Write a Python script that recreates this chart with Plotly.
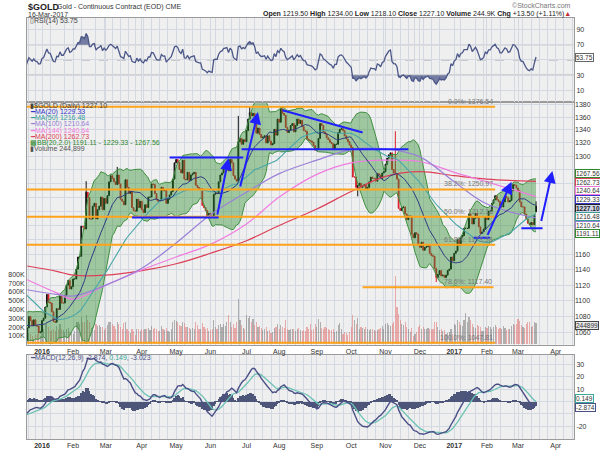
import numpy as np
import pandas as pd
import plotly.graph_objects as go

N = None
# ---------------- DATA ----------------
# daily closes, one row per week (Mon..Fri); first row = Thu/Fri 1-2 Oct 2015 (warm-up for indicators)
# None = exchange holiday (no bar)
close_rows = [
    [1114, 1137],
    [1137, 1146, 1146, 1146, 1156],
    [1164, 1167, 1186, 1187, 1182],
    [1171, 1170, 1166, 1166, 1163],
    [1166, 1167, 1156, 1146, 1142],
    [1135, 1134, 1115, 1105, 1088],
    [1091, 1092, 1085, 1084, 1081],
    [1085, 1068, 1071, 1078, 1077],
    [1074, 1075, 1070, N, 1056],
    [1064, 1064, 1053, 1062, 1085],
    [1075, 1074, 1075, 1071, 1075],
    [1064, 1062, 1076, 1050, 1066],
    [1080, 1075, 1069, 1076, N],
    [1069, 1068, 1060, 1061, N],
    [1075, 1078, 1092, 1108, 1098],
    [1097, 1086, 1074, 1073, 1090],
    [N, 1089, 1106, 1097, 1097],
    [1107, 1120, 1126, 1115, 1118],
    [1128, 1128, 1141, 1157, 1158],
    [1199, 1198, 1195, 1247, 1239],
    [N, 1209, 1209, 1227, 1231],
    [1209, 1222, 1227, 1240, 1222],
    [1238, 1231, 1242, 1262, 1271],
    [1267, 1262, 1258, 1272, 1259],
    [1237, 1234, 1229, 1265, 1254],
    [1245, 1248, 1225, 1221, N],
    [1220, 1237, 1225, 1234, 1222],
    [1218, 1229, 1225, 1240, 1240],
    [1259, 1258, 1245, 1236, 1234],
    [1235, 1254, 1249, 1250, 1231],
    [1237, 1243, 1248, 1266, 1290],
    [1295, 1291, 1280, 1275, 1294],
    [1266, 1265, 1276, 1264, 1272],
    [1274, 1276, 1257, 1254, 1252],
    [1252, 1228, 1225, 1221, 1213],
    [N, 1217, 1213, 1211, 1244],
    [1246, 1245, 1262, 1272, 1275],
    [1285, 1286, 1289, 1278, 1295],
    [1290, 1271, 1266, 1263, 1322],
    [1327, 1318, 1325, 1322, 1339],
    [N, 1357, 1367, 1362, 1366],
    [1356, 1335, 1343, 1333, 1328],
    [1329, 1331, 1320, 1331, 1323],
    [1317, 1319, 1341, 1332, 1357],
    [1352, 1373, 1366, 1363, 1344],
    [1336, 1340, 1347, 1350, 1337],
    [1347, 1357, 1350, 1355, 1345],
    [1339, 1338, 1326, 1324, 1323],
    [1321, 1316, 1309, 1311, 1327],
    [N, 1350, 1347, 1337, 1334],
    [1328, 1325, 1321, 1319, 1310],
    [1318, 1318, 1336, 1341, 1342],
    [1339, 1331, 1326, 1322, 1317],
    [1313, 1269, 1269, 1254, 1257],
    [1260, 1254, 1256, 1258, 1251],
    [1254, 1262, 1269, 1267, 1267],
    [1263, 1274, 1272, 1267, 1275],
    [1277, 1288, 1297, 1302, 1305],
    [1280, 1275, 1274, 1266, 1224],
    [1221, 1225, 1226, 1216, 1208],
    [1213, 1213, 1188, N, 1183],
    [1190, 1188, 1173, 1170, 1177],
    [1166, 1170, 1171, 1172, 1162],
    [1159, 1158, 1142, 1130, 1134],
    [1139, 1132, 1133, 1130, 1133],
    [N, 1139, 1141, 1157, 1152],
    [N, 1162, 1165, 1181, 1173],
    [1184, 1186, 1196, 1196, 1196],
    [N, 1216, 1212, 1202, 1210],
    [1217, 1211, 1198, 1189, 1191],
    [1195, 1211, 1208, 1220, 1220],
    [1231, 1236, 1242, 1236, 1234],
    [1226, 1226, 1233, 1241, 1239],
    [N, 1233, 1235, 1249, 1258],
    [1257, 1253, 1249, 1233, 1226],
    [1226, 1216, 1209, 1203, 1201],
    [1204, 1201, 1213.6, 1227.1],
]
open_fix = {"2017-03-16": 1219.50}
high_fix = {"2016-02-11": 1263, "2016-03-10": 1284, "2016-06-24": 1362, "2016-07-06": 1377,
            "2016-08-02": 1375, "2016-11-09": 1338, "2017-03-16": 1234.00}
low_fix = {"2016-10-07": 1241, "2016-12-15": 1124, "2017-03-16": 1218.10}

# daily volume (thousands), weekly rows from Mon 21 Dec 2015
vol_rows = [
    [130, 120, 100, 60, N], [110, 120, 130, 90, N],
    [160, 170, 220, 260, 200], [150, 160, 170, 150, 210], [N, 170, 230, 180, 160], [140, 170, 190, 140, 130],
    [120, 150, 250, 260, 230], [310, 260, 250, 340, 280], [N, 250, 190, 200, 160], [230, 210, 220, 200, 200],
    [160, 190, 220, 250, 260], [230, 210, 180, 260, 230], [200, 180, 240, 260, 180], [150, 130, 170, 150, N],
    [110, 180, 170, 150, 180], [160, 170, 180, 190, 160], [210, 180, 190, 170, 150], [150, 210, 170, 160, 190],
    [150, 140, 170, 250, 280], [270, 250, 220, 210, 260], [240, 200, 200, 190, 180], [190, 180, 250, 220, 180],
    [170, 240, 200, 180, 190], [N, 150, 160, 170, 280], [200, 170, 220, 230, 200], [230, 210, 260, 330, 250],
    [200, 230, 190, 250, 520], [280, 220, 190, 180, 330], [N, 300, 320, 250, 290], [220, 260, 200, 210, 190],
    [160, 170, 200, 150, 160], [130, 140, 190, 200, 230], [180, 220, 200, 190, 280], [180, 160, 170, 170, 180],
    [150, 170, 190, 160, 150], [160, 150, 200, 180, 230], [160, 180, 230, 200, 290], [N, 260, 190, 180, 200],
    [190, 170, 160, 160, 170], [140, 150, 220, 240, 170], [120, 140, 130, 110, 140], [200, 330, 280, 230, 300],
    [180, 200, 190, 180, 200], [170, 160, 180, 170, 160], [150, 160, 170, 190, 210], [180, 230, 240, 220, 210],
    [230, 260, 780, 420, 350], [280, 230, 220, 250, 200], [170, 140, 190, N, 90], [120, 140, 200, 220, 180],
    [200, 180, 170, 190, 170], [170, 180, 260, 250, 200], [160, 180, 150, 160, 120], [N, 130, 140, 170, 120],
    [N, 230, 220, 280, 260], [220, 210, 280, 360, 250], [N, 315, 280, 230, 200], [190, 220, 210, 200, 150],
    [150, 200, 190, 210, 200], [170, 200, 220, 200, 180], [190, 170, 210, 190, 160], [N, 180, 170, 210, 230],
    [220, 230, 290, 270, 220], [200, 190, 230, 250, 250], [200, 210, 260, 244.9],
]

# longer moving averages
ma_dates = ["2015-12-18", "2016-01-15", "2016-02-01", "2016-03-01", "2016-04-01", "2016-05-02",
            "2016-06-01", "2016-07-01", "2016-08-01", "2016-09-01", "2016-10-03", "2016-11-01",
            "2016-12-01", "2017-01-03", "2017-02-01", "2017-03-16"]
ma100_vals = [1114, 1108, 1106, 1120, 1142, 1176, 1215, 1247, 1274, 1294, 1310, 1311, 1299, 1262, 1230, 1210.64]
ma144_vals = [1127, 1110, 1102, 1120, 1140, 1157, 1174, 1202, 1240, 1273, 1290, 1294, 1292, 1276, 1262, 1240.64]
ma200_vals = [1145, 1138, 1133, 1133, 1139, 1148, 1162, 1179, 1200, 1223, 1248, 1270, 1277, 1271, 1266, 1262.73]

fib_levels = [1376.54, 1250.97, 1212.18, 1173.38, 1117.40, 1047.81]
fib_names = ["0.0%: 1376.54", "38.2%: 1250.97", "50.0%: 1212.18", "61.8%: 1173.38", "78.6%: 1117.40", "100.0%: 1047.81"]
fib_start = ["2015-12-14", "2015-12-14", "2015-12-14", "2015-12-14", "2016-10-12", "2015-12-14"]
fib_end = ["2017-02-08", "2017-02-08", "2017-02-08", "2017-02-08", "2017-02-07", "2017-02-08"]

trend_lines = [
    ("2016-03-23", 1211, "2016-06-08", 1211),
    ("2016-04-26", 1298, "2016-06-29", 1298),
    ("2016-06-28", 1310.5, "2016-11-21", 1310.5),
    ("2016-08-03", 1371, "2016-10-12", 1336),
    ("2017-01-20", 1183, "2017-02-03", 1183),
    ("2017-03-03", 1196, "2017-03-22", 1196),
]
trend_arrows = [
    ("2016-06-07", 1213, "2016-06-16", 1297),
    ("2016-06-27", 1253, "2016-07-13", 1368),
    ("2017-02-01", 1185, "2017-02-23", 1262),
    ("2017-03-21", 1204, "2017-03-30", 1278),
]

month_ticks = ["2016-01-04", "2016-02-01", "2016-03-01", "2016-04-01", "2016-05-02", "2016-06-01",
               "2016-07-01", "2016-08-01", "2016-09-01", "2016-10-03", "2016-11-01", "2016-12-01",
               "2017-01-03", "2017-02-01", "2017-03-01", "2017-04-03"]
month_text = ["<b>2016</b>", "Feb", "Mar", "Apr", "May", "Jun", "Jul", "Aug", "Sep", "Oct", "Nov", "Dec",
              "<b>2017</b>", "Feb", "Mar", "Apr"]
price_ticks = list(range(1060, 1381, 20))
vol_ticks = [100, 200, 300, 400, 500, 600, 700, 800]
rsi_ticks = [10, 30, 50, 70, 90]
macd_ticks = [-20, -10, 0, 10, 20, 30]

# right-axis value tags: (value, text, border colour, text colour, background)
tags_main = [
    (1267.56, "1267.56", "#2d8a2d", "#333", "white"),
    (1262.73, "1262.73", "#e0405a", "#333", "white"),
    (1240.64, "1240.64", "#f27ce0", "#333", "white"),
    (1229.33, "1229.33", "#3535c8", "#333", "white"),
    (1227.10, "<b>1227.10</b>", "#222", "#222", "#cfd3e6"),
    (1216.48, "1216.48", "#3c9c9c", "#333", "white"),
    (1210.64, "1210.64", "#9a7fd6", "#333", "white"),
    (1191.11, "1191.11", "#2d8a2d", "#333", "white"),
]
tags_macd = [(0.149, "0.149", "#3aa89a"), (-2.874, "-2.874", "#4a4f86")]
tag_rsi = 53.75
tag_vol = 244.9

# ---------------- BUILD ----------------
W, H = 600, 450
def PX(x): return x / W
def PY(y): return 1 - y / H

dates_all = pd.bdate_range("2015-10-01", "2017-03-16")
cflat = [v for r in close_rows for v in r]
assert len(cflat) == len(dates_all), (len(cflat), len(dates_all))
raw = pd.DataFrame({"date": dates_all, "close": cflat})
holidays = [d.strftime("%Y-%m-%d") for d in raw.loc[raw.close.isna(), "date"]]
df = raw.dropna().reset_index(drop=True)
df["close"] = df["close"].astype(float)
df["open"] = df["close"].shift(1).fillna(df["close"])
df["key"] = df["date"].dt.strftime("%Y-%m-%d")
for k, v in open_fix.items():
    df.loc[df.key == k, "open"] = v
df["high"] = df[["open", "close"]].max(axis=1)
df["low"] = df[["open", "close"]].min(axis=1)
for k, v in high_fix.items():
    df.loc[df.key == k, "high"] = v
for k, v in low_fix.items():
    df.loc[df.key == k, "low"] = v

c = df["close"]
ma20 = c.rolling(20).mean()
sd20 = c.rolling(20).std(ddof=0)
bb_up, bb_lo = ma20 + 2 * sd20, ma20 - 2 * sd20
ma50 = c.rolling(50).mean()
dlt = c.diff()
g = dlt.clip(lower=0).ewm(alpha=1 / 14, adjust=False).mean()
l = (-dlt).clip(lower=0).ewm(alpha=1 / 14, adjust=False).mean()
rsi = 100 - 100 / (1 + g / l)
macd = c.ewm(span=12, adjust=False).mean() - c.ewm(span=26, adjust=False).mean()
sig = macd.ewm(span=9, adjust=False).mean()
hist = macd - sig

show = df["date"] >= pd.Timestamp("2015-12-10")
D = df.loc[show, "date"]

vdates = pd.bdate_range("2015-12-21", "2017-03-16")
vflat = [v for r in vol_rows for v in r]
assert len(vflat) == len(vdates), (len(vflat), len(vdates))
vdf = pd.DataFrame({"date": vdates, "vol": vflat}).dropna()
vdf = vdf.merge(df[["date", "open", "close"]], on="date", how="left")
prev = df.set_index("date")["close"].shift(1)
vdf["prev"] = vdf["date"].map(prev)
vcol = np.where(vdf["close"] >= vdf["prev"], "rgba(120,120,120,0.55)", "rgba(226,112,112,0.55)")

DAY = 86400000
FONT = "Liberation Sans, Arial, sans-serif"
BLUE = "#1f1fff"
ORANGE = "#ffa31a"

fig = go.Figure()

# volume (base axis of main panel)
fig.add_trace(go.Bar(x=vdf["date"], y=vdf["vol"], marker_color=vcol, marker_line_width=0,
                     width=0.7 * DAY, xaxis="x2", yaxis="y2"))
# Bollinger band
fig.add_trace(go.Scatter(x=D, y=bb_up[show], mode="lines", line=dict(color="#3f8f3f", width=1),
                         xaxis="x2", yaxis="y4"))
fig.add_trace(go.Scatter(x=D, y=bb_lo[show], mode="lines", line=dict(color="#3f8f3f", width=1),
                         fill="tonexty", fillcolor="rgba(40,140,40,0.40)", xaxis="x2", yaxis="y4"))
# long MAs
for vals, col in [(ma200_vals, "#dc4058"), (ma144_vals, "#f07ce0"), (ma100_vals, "#9b80d8")]:
    fig.add_trace(go.Scatter(x=pd.to_datetime(ma_dates), y=vals, mode="lines",
                             line=dict(color=col, width=1.2, shape="spline", smoothing=1.0),
                             xaxis="x2", yaxis="y4"))
fig.add_trace(go.Scatter(x=D, y=ma50[show], mode="lines", line=dict(color="#4aa6a8", width=1.1),
                         xaxis="x2", yaxis="y4"))
fig.add_trace(go.Scatter(x=D, y=ma20[show], mode="lines", line=dict(color="#2e3b80", width=1.0),
                         xaxis="x2", yaxis="y4"))
# candles
fig.add_trace(go.Candlestick(x=D, open=df.loc[show, "open"], high=df.loc[show, "high"],
                             low=df.loc[show, "low"], close=df.loc[show, "close"],
                             increasing=dict(line=dict(color="#111111", width=1), fillcolor="#111111"),
                             decreasing=dict(line=dict(color="#d8202c", width=1), fillcolor="#d8202c"),
                             whiskerwidth=0, xaxis="x2", yaxis="y4"))
# fibonacci lines
for lv, s, e in zip(fib_levels, fib_start, fib_end):
    fig.add_trace(go.Scatter(x=[s, e], y=[lv, lv], mode="lines", line=dict(color=ORANGE, width=2),
                             xaxis="x2", yaxis="y4"))
# trend lines
for x0, y0, x1, y1 in trend_lines:
    fig.add_trace(go.Scatter(x=[x0, x1], y=[y0, y1], mode="lines", line=dict(color=BLUE, width=2),
                             xaxis="x2", yaxis="y4"))

# RSI panel
RD = D
rv = rsi[show]
fig.add_trace(go.Scatter(x=RD, y=[70] * len(RD), mode="lines", line=dict(width=0), xaxis="x3", yaxis="y3"))
fig.add_trace(go.Scatter(x=RD, y=np.maximum(rv, 70), mode="lines", line=dict(width=0), fill="tonexty",
                         fillcolor="rgba(75,85,136,0.75)", xaxis="x3", yaxis="y3"))
fig.add_trace(go.Scatter(x=RD, y=[30] * len(RD), mode="lines", line=dict(width=0), xaxis="x3", yaxis="y3"))
fig.add_trace(go.Scatter(x=RD, y=np.minimum(rv, 30), mode="lines", line=dict(width=0), fill="tonexty",
                         fillcolor="rgba(75,85,136,0.75)", xaxis="x3", yaxis="y3"))
fig.add_trace(go.Scatter(x=RD, y=rv, mode="lines", line=dict(color="#4b5788", width=1.3), xaxis="x3", yaxis="y3"))

# MACD panel
fig.add_trace(go.Bar(x=D, y=hist[show], marker_color="#4d5678", marker_line_width=0, width=0.75 * DAY,
                     xaxis="x", yaxis="y"))
fig.add_trace(go.Scatter(x=D, y=sig[show], mode="lines", line=dict(color="#6cc2b4", width=1.3), xaxis="x", yaxis="y"))
fig.add_trace(go.Scatter(x=D, y=macd[show], mode="lines", line=dict(color="#4a4f86", width=1.4), xaxis="x", yaxis="y"))

# ---------------- geometry helpers ----------------
MAIN_TOP, MAIN_BOT = 102, 346
PLO, PHI = np.log10(1045.5), np.log10(1383.5)
MACD_TOP, MACD_BOT = 356, 441
MLO, MHI = -30.5, 38.1
RSI_TOP, RSI_BOT = 17, 102
RLO, RHI = -5.5, 105.1

def main_px(v): return MAIN_BOT - (np.log10(v) - PLO) / (PHI - PLO) * (MAIN_BOT - MAIN_TOP)
def macd_px(v): return MACD_BOT - (v - MLO) / (MHI - MLO) * (MACD_BOT - MACD_TOP)
def rsi_px(v): return RSI_BOT - (v - RLO) / (RHI - RLO) * (RSI_BOT - RSI_TOP)

def spread(pxs, gap):
    out = list(pxs)
    for _ in range(50):
        for i in range(1, len(out)):
            if out[i] - out[i - 1] < gap:
                mid = (out[i] + out[i - 1]) / 2
                out[i - 1], out[i] = mid - gap / 2, mid + gap / 2
    return out

GAP = 8.6
m_old = [main_px(v) for v, *_ in tags_main]
m_new = spread(m_old, GAP)
d_old = [macd_px(v) for v, *_ in tags_macd]
d_new = spread(d_old, GAP)
r_pos = rsi_px(tag_rsi)

def tick_text(ticks, pxf, tag_pos, fmt=str):
    # a tick label that would sit under a value tag is hidden by the tag (as in the original)
    return [("" if any(abs(pxf(t) - p) < 8.2 for p in tag_pos) else fmt(t)) for t in ticks]

price_text = tick_text(price_ticks, main_px, m_new)
rsi_text = tick_text(rsi_ticks, rsi_px, [r_pos])
macd_text = tick_text(macd_ticks, macd_px, d_new)

# ---------------- LAYOUT ----------------
xr = ["2015-12-17 20:00", "2017-04-18 05:00"]
rb = [dict(bounds=["sat", "mon"]), dict(values=holidays)]
mondays = pd.date_range("2015-12-14", "2017-04-17", freq="W-MON")
GRID = "#d4d8e0"
axline = dict(showline=True, mirror=True, linecolor="#9a9a9a", linewidth=1)
xcommon = dict(range=xr, rangebreaks=rb, tickmode="array", tickvals=month_ticks, ticktext=month_text,
               showgrid=True, gridcolor=GRID, gridwidth=1, ticks="", zeroline=False,
               tickfont=dict(size=7, color="#333", family=FONT),
               minor=dict(tickmode="array", tickvals=mondays, showgrid=True, gridcolor=GRID, gridwidth=1),
               domain=[PX(27), PX(574)], rangeslider=dict(visible=False), **axline)
ytick = dict(size=7, color="#333", family=FONT)

fig.update_layout(
    width=W, height=H, margin=dict(l=0, r=0, t=0, b=0),
    paper_bgcolor="white", plot_bgcolor="#efefef", showlegend=False, bargap=0,
    font=dict(family=FONT, size=7, color="#333"),
    xaxis=dict(anchor="y", **xcommon),
    xaxis2=dict(anchor="y2", matches="x", **xcommon),
    xaxis3=dict(anchor="y3", matches="x", showticklabels=False, **xcommon),
    yaxis=dict(domain=[PY(MACD_BOT), PY(MACD_TOP)], range=[MLO, MHI], side="right",
               tickvals=macd_ticks, ticktext=macd_text,
               showgrid=True, gridcolor=GRID, zeroline=False, tickfont=ytick, ticks="", **axline),
    yaxis2=dict(domain=[PY(MAIN_BOT), PY(MAIN_TOP)], range=[0, 2760], side="left", tickvals=vol_ticks,
                ticktext=[f"{v}K" for v in vol_ticks], showgrid=False, zeroline=False, tickfont=ytick,
                ticks="", **axline),
    yaxis4=dict(overlaying="y2", anchor="x2", side="right", type="log",
                range=[PLO, PHI], tickvals=price_ticks, ticktext=price_text,
                showgrid=True, gridcolor=GRID, zeroline=False, tickfont=ytick, ticks=""),
    yaxis3=dict(domain=[PY(RSI_BOT), PY(RSI_TOP)], range=[RLO, RHI], side="right", tickvals=rsi_ticks,
                ticktext=rsi_text, showgrid=True, gridcolor=GRID, zeroline=False, tickfont=ytick,
                ticks="", **axline),
)

shapes = []
for lvl, dash, col in [(70, "solid", "#8a8a8a"), (30, "solid", "#8a8a8a"), (50, "dash", "#9a9a9a")]:
    shapes.append(dict(type="line", xref="x3 domain", yref="y3", x0=0, x1=1, y0=lvl, y1=lvl,
                       line=dict(color=col, width=1, dash=dash), layer="below"))
fig.update_layout(shapes=shapes)

ann = []
def txt(x, y, t, size=7, color="#333", anchor="left"):
    ann.append(dict(x=PX(x), y=PY(y), xref="paper", yref="paper", text=t, showarrow=False,
                    xanchor=anchor, yanchor="middle", font=dict(size=size, color=color, family=FONT)))

txt(26, 6, "<b>$GOLD</b>", size=9, color="#222")
txt(55, 6.5, "Gold - Continuous Contract (EOD) CME", size=7, color="#333")
txt(26, 13.5, "16-Mar-2017", size=7, color="#333")
txt(573, 5, "©StockCharts.com", size=7, color="#777", anchor="right")
txt(573, 13.5, "<b>Open</b> 1219.50 <b>High</b> 1234.00 <b>Low</b> 1218.10 <b>Close</b> 1227.10 "
    "<b>Volume</b> 244.9K <b>Chg</b> +13.50 (+1.11%)<span style='color:#c03030'>▲</span>",
    size=7, color="#222", anchor="right")
txt(28, 20.5, "▯RSI(14) 53.75", size=7, color="#444")

leg = [("▮$GOLD (Daily) 1227.10", "#444"), ("━MA(20) 1229.33", "#3535c8"), ("━MA(50) 1216.48", "#3c9c9c"),
       ("━MA(100) 1210.64", "#9a7fd6"), ("━MA(144) 1240.64", "#f27ce0"), ("━MA(200) 1262.73", "#e0405a"),
       ("▩BB(20,2.0) 1191.11 - 1229.33 - 1267.56", "#2d8a2d"), ("▮Volume 244,899", "#555")]
for i, (t, col) in enumerate(leg):
    txt(28, 106 + i * 6.1, t, size=7, color=col)
txt(28, 359.5, "━MACD(12,26,9) -2.874, <span style='color:#3aa89a'>0.149</span>, -3.023", size=7, color="#4a4f86")

# fibonacci labels
for lv, nm, e in zip(fib_levels, fib_names, fib_end):
    ann.append(dict(x=e, y=np.log10(lv), xref="x2", yref="y4", text=nm, showarrow=False, xanchor="right",
                    yanchor="bottom", yshift=0, font=dict(size=7, color="#777", family=FONT)))

# arrows
for x0, y0, x1, y1 in trend_arrows:
    ann.append(dict(x=x1, y=np.log10(y1), ax=x0, ay=np.log10(y0), xref="x2", yref="y4", axref="x2",
                    ayref="y4", text="", showarrow=True, arrowhead=2, arrowsize=1.2, arrowwidth=2,
                    arrowcolor=BLUE))

def box(yref, yv, t, bc, fc="#333", bg="white", shift=0.0):
    ann.append(dict(x=PX(575), y=yv, xref="paper", yref=yref, text=t, showarrow=False, xanchor="left",
                    yanchor="middle", bgcolor=bg, bordercolor=bc, borderwidth=1, borderpad=0, yshift=shift,
                    font=dict(size=6.5, color=fc, family=FONT)))

for (v, t, bc, fc, bg), p0, p1 in zip(tags_main, m_old, m_new):
    box("y4", np.log10(v), t, bc, fc, bg, shift=p0 - p1)
for (v, t, bc), p0, p1 in zip(tags_macd, d_old, d_new):
    box("y", v, t, bc, shift=p0 - p1)
box("y3", tag_rsi, "53.75", "#666")
box("y2", tag_vol, "244899", "#444", bg="#e8e8e8", shift=-2.5)

fig.update_layout(annotations=ann)
fig.write_html("out.html")
